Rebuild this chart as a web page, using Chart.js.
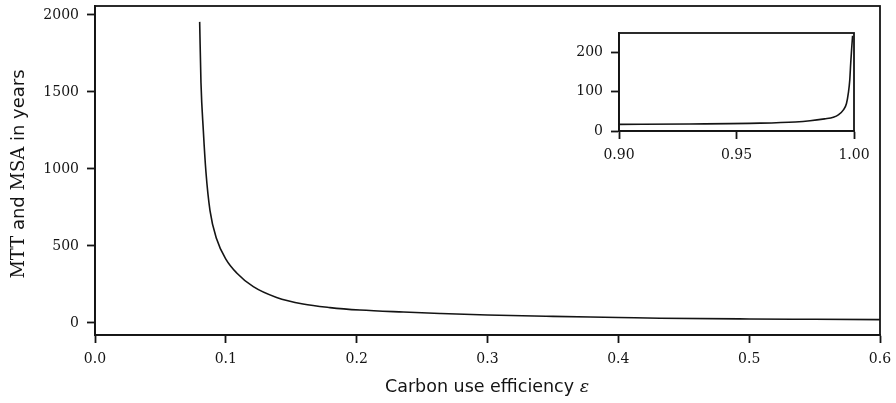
<!DOCTYPE html>
<html>
<head>
<meta charset="utf-8">
<script src="https://cdn.jsdelivr.net/npm/chart.js@4.4.0/dist/chart.umd.min.js"></script>
<style>
  html, body { margin: 0; padding: 0; background: #fff; }
  #wrap { position: relative; width: 896px; height: 403px; }
  #main { position: absolute; left: 0; top: 0; }
  #inset { position: absolute; left: 560px; top: 28px; }
</style>
</head>
<body>
<div id="wrap">
  <canvas id="main" width="896" height="403"></canvas>
  <canvas id="inset" width="318" height="140"></canvas>
</div>
<script>
// main curve: carbon use efficiency vs years
const mainEps = [0.0800, 0.0810, 0.0828, 0.0848, 0.0879, 0.0930, 0.1000, 0.1083, 0.1210, 0.1388, 0.1590, 0.1796, 0.2025, 0.2357, 0.2637, 0.3, 0.35, 0.4, 0.432, 0.5, 0.55, 0.6];
const mainYears = [1955, 1560, 1250, 980, 730, 545, 415, 325, 236, 166, 123, 100, 84, 71, 62, 52, 43, 36, 31, 26, 24, 22];

// inset curve, close to eps = 1
const insetEps = [0.9, 0.93, 0.96, 0.975, 0.9813, 0.9875, 0.9912, 0.9935, 0.9955, 0.9968, 0.9976, 0.9982, 0.9986, 0.999, 0.9994];
const insetYears = [17, 18, 20, 23, 26, 31, 35, 42, 54, 70, 97, 130, 173, 210, 243];

const mainXTicks = [0, 0.1, 0.2, 0.3, 0.4, 0.5, 0.6];
const mainYTicks = [0, 500, 1000, 1500, 2000];
const insetXTicks = [0.90, 0.95, 1.00];
const insetYTicks = [0, 100, 200];

const ink = '#141414';
const tickFont = { family: 'DejaVu Serif', size: 14 };

// full box around the plot area
const boxPlugin = {
    id: 'box',
    afterDraw(chart) {
        const a = chart.chartArea;
        const ctx = chart.ctx;
        ctx.save();
        ctx.strokeStyle = ink;
        ctx.lineWidth = 1.8;
        ctx.strokeRect(a.left, a.top, a.right - a.left, a.bottom - a.top);
        ctx.restore();
    }
};

// axis labels: mixed serif (math) and sans text
const labelPlugin = {
    id: 'labels',
    afterDraw(chart) {
        const ctx = chart.ctx;
        const sans = '18px "DejaVu Sans"';
        const serif = '18px "DejaVu Serif"';
        const parts = [['MTT', serif], [' and ', sans], ['MSA', serif], [' in years', sans]];
        ctx.save();
        ctx.fillStyle = ink;
        ctx.textBaseline = 'middle';
        ctx.textAlign = 'left';
        let total = 0;
        parts.forEach(p => { ctx.font = p[1]; total += ctx.measureText(p[0]).width; });
        ctx.translate(19, 174);
        ctx.rotate(-Math.PI / 2);
        let x = -total / 2;
        parts.forEach(p => { ctx.font = p[1]; ctx.fillText(p[0], x, 0); x += ctx.measureText(p[0]).width; });
        ctx.restore();

        ctx.save();
        ctx.fillStyle = ink;
        ctx.textBaseline = 'middle';
        ctx.textAlign = 'left';
        const xsans = '17.5px "DejaVu Sans"';
        const xparts = [['Carbon use efficiency ', xsans], ['ε', 'italic 17.5px "DejaVu Serif"']];
        total = 0;
        xparts.forEach(p => { ctx.font = p[1]; total += ctx.measureText(p[0]).width; });
        x = 487 - total / 2;
        xparts.forEach(p => { ctx.font = p[1]; ctx.fillText(p[0], x, 387); x += ctx.measureText(p[0]).width; });
        ctx.restore();
    }
};

function axis(min, max, ticks, fmt, size, horizontal) {
    return {
        type: 'linear',
        min: min,
        max: max,
        afterBuildTicks: (scale) => { scale.ticks = ticks.map(v => ({ value: v })); },
        afterFit: (scale) => {
            if (horizontal) {
                scale.height = size;
                scale.paddingLeft = 0;
                scale.paddingRight = 0;
            } else {
                scale.width = size;
                scale.paddingTop = 0;
                scale.paddingBottom = 0;
            }
        },
        grid: { display: true, drawOnChartArea: false, drawTicks: true, tickLength: 8, tickWidth: 1.8, tickColor: ink },
        border: { display: true, color: ink, width: 1.8 },
        ticks: { color: ink, font: tickFont, padding: 8, maxRotation: 0, autoSkip: false, callback: fmt }
    };
}

new Chart(document.getElementById('main'), {
    type: 'line',
    data: {
        datasets: [{
            data: mainEps.map((e, i) => ({ x: e, y: mainYears[i] })),
            borderColor: ink,
            borderWidth: 1.6,
            pointRadius: 0,
            cubicInterpolationMode: 'monotone',
            fill: false
        }]
    },
    options: {
        responsive: false,
        animation: false,
        layout: { padding: { left: 0, top: 6, right: 16, bottom: 0 } },
        plugins: { legend: { display: false }, tooltip: { enabled: false } },
        scales: {
            x: axis(0, 0.6, mainXTicks, v => v.toFixed(1), 68, true),
            y: axis(-78, 2058, mainYTicks, v => String(v), 95, false)
        }
    },
    plugins: [boxPlugin, labelPlugin]
});

new Chart(document.getElementById('inset'), {
    type: 'line',
    data: {
        datasets: [{
            data: insetEps.map((e, i) => ({ x: e, y: insetYears[i] })),
            borderColor: ink,
            borderWidth: 1.6,
            pointRadius: 0,
            cubicInterpolationMode: 'monotone',
            fill: false
        }]
    },
    options: {
        responsive: false,
        animation: false,
        layout: { padding: { left: 0, top: 5, right: 24, bottom: 0 } },
        plugins: { legend: { display: false }, tooltip: { enabled: false } },
        scales: {
            x: axis(0.9, 1.0, insetXTicks, v => v.toFixed(2), 37, true),
            y: axis(0, 250, insetYTicks, v => String(v), 59, false)
        }
    },
    plugins: [boxPlugin]
});
</script>
</body>
</html>
